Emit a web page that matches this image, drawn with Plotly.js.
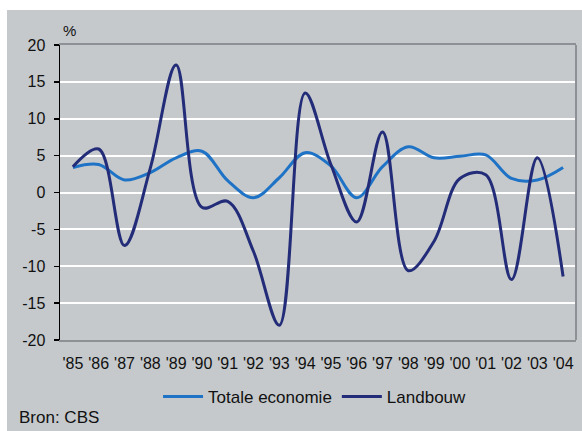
<!DOCTYPE html>
<html>
<head>
<meta charset="utf-8">
<script src="https://cdn.plot.ly/plotly-3.0.1.min.js"></script>
<style>
html,body{margin:0;padding:0;background:#ffffff;width:582px;height:431px;overflow:hidden;}
#chart{position:absolute;left:7px;top:10px;width:575px;height:421px;}
</style>
</head>
<body>
<div id="chart"></div>
<script>
const years = ["'85","'86","'87","'88","'89","'90","'91","'92","'93","'94","'95","'96","'97","'98","'99","'00","'01","'02","'03","'04"];
const totaleEconomie = [3.4, 3.8, 1.7, 2.7, 4.7, 5.6, 1.6, -0.7, 2.0, 5.4, 3.6, -0.7, 3.5, 6.2, 4.7, 4.9, 5.1, 1.9, 1.7, 3.4];
const landbouw = [3.5, 5.9, -7.2, 3.3, 17.3, -2.0, -1.2, -8.0, -18.0, 13.5, 3.8, -4.0, 8.2, -10.6, -6.6, 1.9, 2.4, -11.8, 4.7, -11.4];
const yTickVals = [-20, -15, -10, -5, 0, 5, 10, 15, 20];
const yTickText = ["-20", "-15", "-10", "-5", "0", "5", "10", "15", "20"];

const idx = years.map((_, i) => i);
const bounds = years.map((_, i) => i - 0.5).concat([years.length - 0.5]);

const traces = [
  {x: idx, y: totaleEconomie, name: 'Totale economie', type: 'scatter', mode: 'lines',
   line: {color: '#1f73c6', width: 3, shape: 'spline', smoothing: 1}},
  {x: idx, y: landbouw, name: 'Landbouw', type: 'scatter', mode: 'lines',
   line: {color: '#232c78', width: 3, shape: 'spline', smoothing: 1}}
];

const font = {family: '"Liberation Sans", Arial, sans-serif', size: 16, color: '#111111'};

const layout = {
  width: 575, height: 421,
  paper_bgcolor: '#c5c9cc', plot_bgcolor: '#c5c9cc',
  margin: {l: 53, r: 6, t: 35, b: 91},
  font: font,
  showlegend: true,
  legend: {orientation: 'h', x: 0.19, xanchor: 'left', y: -0.193, yanchor: 'middle',
           font: {family: font.family, size: 17, color: '#111111'}, bgcolor: 'rgba(0,0,0,0)',
           itemwidth: 40, traceorder: 'normal'},
  xaxis: {range: [-0.5, years.length - 0.5], tickvals: idx, ticktext: years,
          ticks: 'outside', ticklen: 8, tickcolor: 'rgba(0,0,0,0)',
          showgrid: false, zeroline: false, showline: true, linecolor: '#8d9094', linewidth: 2, mirror: true,
          tickfont: {family: font.family, size: 16, color: '#111111'}, fixedrange: true},
  xaxis2: {overlaying: 'x', anchor: 'free', position: 0.5, range: [-0.5, years.length - 0.5],
           tickvals: bounds, ticks: 'outside', ticklen: 4, tickwidth: 1.5, tickcolor: '#000000',
           showticklabels: false, showgrid: false, zeroline: false,
           showline: true, linecolor: '#000000', linewidth: 1.5},
  yaxis: {range: [-20, 20], tickvals: yTickVals, ticktext: yTickText,
          ticks: 'outside', ticklen: 5, tickwidth: 1.5, tickcolor: '#000000', ticklabelstandoff: 5,
          showgrid: true, gridcolor: '#ffffff', gridwidth: 2, zeroline: false,
          showline: true, linecolor: '#000000', linewidth: 1.5,
          tickfont: {family: font.family, size: 16, color: '#111111'}},
  shapes: [
    {type: 'line', xref: 'paper', yref: 'paper', x0: 1, x1: 1, y0: 0, y1: 1,
     line: {color: '#8d9094', width: 2}}
  ],
  annotations: [
    {text: '%', xref: 'paper', yref: 'paper', x: 0, y: 1, xanchor: 'left', yanchor: 'bottom',
     xshift: 1, yshift: 4, showarrow: false, font: {family: font.family, size: 15, color: '#111111'}},
    {text: 'Bron: CBS', xref: 'paper', yref: 'paper', x: -0.083, y: -0.264, xanchor: 'left', yanchor: 'middle',
     showarrow: false, font: {family: font.family, size: 17, color: '#111111'}}
  ]
};

Plotly.newPlot('chart', traces, layout, {displayModeBar: false, staticPlot: true});
</script>
</body>
</html>
